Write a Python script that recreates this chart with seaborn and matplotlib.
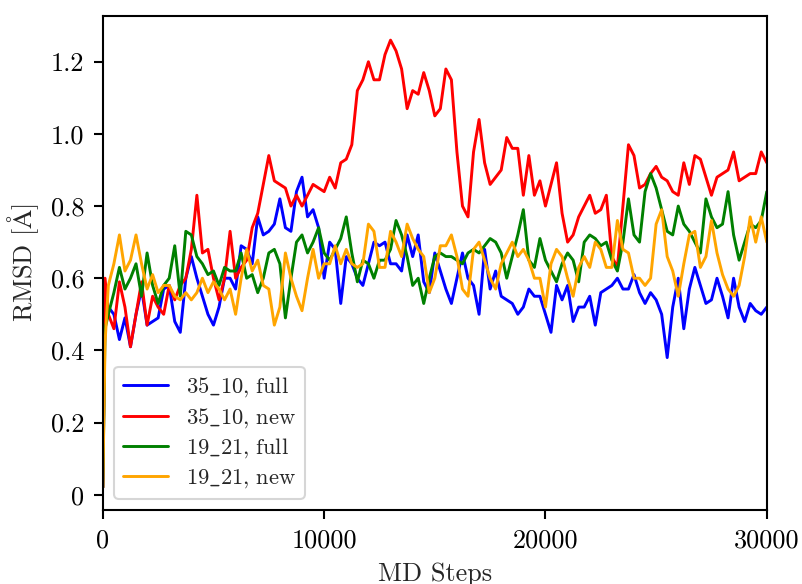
import matplotlib
matplotlib.use("Agg")
import matplotlib.pyplot as plt
import numpy as np
import pandas as pd
import seaborn as sns

# MD step at which each RMSD sample was taken
STEPS = [0, 100] + list(range(250, 30001, 250))

RMSD_35_10_FULL = [
    0.02, 0.50,
    0.52, 0.50, 0.43, 0.49, 0.41, 0.50, 0.57, 0.47, 0.48, 0.49,
    0.57, 0.58, 0.48, 0.45, 0.60, 0.66, 0.60, 0.55, 0.50, 0.47,
    0.52, 0.60, 0.60, 0.57, 0.69, 0.68, 0.64, 0.77, 0.72, 0.73,
    0.75, 0.82, 0.74, 0.73, 0.84, 0.88, 0.77, 0.79, 0.74, 0.60,
    0.70, 0.68, 0.53, 0.66, 0.64, 0.60, 0.58, 0.64, 0.70, 0.69,
    0.70, 0.64, 0.64, 0.62, 0.72, 0.66, 0.72, 0.59, 0.56, 0.67,
    0.62, 0.57, 0.53, 0.60, 0.67, 0.60, 0.58, 0.50, 0.68, 0.57,
    0.62, 0.55, 0.54, 0.53, 0.50, 0.52, 0.57, 0.55, 0.55, 0.50,
    0.45, 0.58, 0.54, 0.58, 0.48, 0.52, 0.52, 0.55, 0.47, 0.56,
    0.57, 0.58, 0.60, 0.57, 0.57, 0.61, 0.56, 0.53, 0.56, 0.54,
    0.50, 0.38, 0.52, 0.60, 0.46, 0.57, 0.63, 0.58, 0.53, 0.54,
    0.60, 0.55, 0.49, 0.60, 0.52, 0.48, 0.53, 0.51, 0.50, 0.52,
]

RMSD_35_10_NEW = [
    0.02, 0.60,
    0.50, 0.46, 0.59, 0.52, 0.41, 0.50, 0.59, 0.47, 0.55, 0.52,
    0.50, 0.58, 0.54, 0.58, 0.60, 0.68, 0.83, 0.67, 0.68, 0.60,
    0.54, 0.60, 0.73, 0.60, 0.63, 0.65, 0.74, 0.78, 0.86, 0.94,
    0.87, 0.86, 0.85, 0.80, 0.83, 0.80, 0.83, 0.86, 0.85, 0.84,
    0.88, 0.85, 0.92, 0.93, 0.97, 1.12, 1.15, 1.20, 1.15, 1.15,
    1.22, 1.26, 1.23, 1.18, 1.07, 1.12, 1.11, 1.17, 1.12, 1.05,
    1.07, 1.18, 1.15, 0.95, 0.80, 0.77, 0.95, 1.04, 0.92, 0.86,
    0.88, 0.90, 0.99, 0.96, 0.96, 0.83, 0.94, 0.83, 0.87, 0.80,
    0.86, 0.92, 0.78, 0.70, 0.72, 0.77, 0.80, 0.83, 0.78, 0.79,
    0.83, 0.66, 0.63, 0.80, 0.97, 0.94, 0.85, 0.86, 0.89, 0.91,
    0.88, 0.87, 0.84, 0.83, 0.92, 0.86, 0.94, 0.93, 0.88, 0.83,
    0.88, 0.89, 0.90, 0.95, 0.87, 0.88, 0.89, 0.89, 0.95, 0.92,
]

RMSD_19_21_FULL = [
    0.02, 0.46,
    0.50, 0.56, 0.63, 0.57, 0.60, 0.64, 0.55, 0.67, 0.58, 0.53,
    0.58, 0.60, 0.69, 0.55, 0.73, 0.72, 0.66, 0.64, 0.61, 0.62,
    0.58, 0.63, 0.62, 0.62, 0.67, 0.60, 0.61, 0.56, 0.60, 0.67,
    0.68, 0.64, 0.49, 0.60, 0.70, 0.72, 0.67, 0.70, 0.74, 0.67,
    0.65, 0.68, 0.71, 0.77, 0.67, 0.59, 0.65, 0.64, 0.60, 0.65,
    0.65, 0.68, 0.76, 0.72, 0.66, 0.58, 0.60, 0.53, 0.60, 0.66,
    0.67, 0.66, 0.66, 0.65, 0.64, 0.67, 0.68, 0.67, 0.69, 0.71,
    0.70, 0.67, 0.60, 0.66, 0.72, 0.79, 0.65, 0.63, 0.71, 0.65,
    0.62, 0.59, 0.64, 0.67, 0.65, 0.59, 0.70, 0.72, 0.71, 0.69,
    0.70, 0.65, 0.62, 0.70, 0.82, 0.72, 0.70, 0.84, 0.89, 0.85,
    0.79, 0.73, 0.72, 0.80, 0.75, 0.73, 0.70, 0.67, 0.82, 0.77,
    0.74, 0.75, 0.84, 0.72, 0.65, 0.70, 0.75, 0.74, 0.76, 0.84,
]

RMSD_19_21_NEW = [
    0.02, 0.42,
    0.58, 0.64, 0.72, 0.62, 0.65, 0.72, 0.64, 0.57, 0.61, 0.56,
    0.58, 0.58, 0.55, 0.54, 0.56, 0.54, 0.56, 0.60, 0.56, 0.59,
    0.57, 0.54, 0.57, 0.50, 0.60, 0.68, 0.62, 0.65, 0.58, 0.57,
    0.47, 0.52, 0.67, 0.60, 0.55, 0.51, 0.60, 0.68, 0.60, 0.64,
    0.64, 0.69, 0.64, 0.68, 0.64, 0.63, 0.64, 0.75, 0.73, 0.63,
    0.63, 0.73, 0.70, 0.66, 0.75, 0.71, 0.68, 0.66, 0.56, 0.60,
    0.69, 0.69, 0.72, 0.66, 0.57, 0.55, 0.68, 0.70, 0.65, 0.60,
    0.57, 0.64, 0.67, 0.70, 0.66, 0.68, 0.65, 0.60, 0.60, 0.52,
    0.64, 0.68, 0.66, 0.60, 0.55, 0.63, 0.66, 0.63, 0.70, 0.68,
    0.63, 0.63, 0.76, 0.68, 0.67, 0.60, 0.60, 0.58, 0.60, 0.75,
    0.79, 0.66, 0.62, 0.55, 0.64, 0.72, 0.73, 0.63, 0.66, 0.76,
    0.67, 0.61, 0.57, 0.55, 0.58, 0.66, 0.77, 0.70, 0.77, 0.70,
]

SERIES_LABELS = ["35_10, full", "35_10, new", "19_21, full", "19_21, new"]
SERIES_COLORS = ["blue", "red", "green", "orange"]

X_TICKS = [0, 10000, 20000, 30000]
Y_TICKS = [0, 0.2, 0.4, 0.6, 0.8, 1.0, 1.2]
Y_TICK_LABELS = ["0", "0.2", "0.4", "0.6", "0.8", "1.0", "1.2"]

# long-form table for seaborn
frames = []
for label, values in zip(SERIES_LABELS,
                         [RMSD_35_10_FULL, RMSD_35_10_NEW,
                          RMSD_19_21_FULL, RMSD_19_21_NEW]):
    frames.append(pd.DataFrame({"step": STEPS, "rmsd": values, "run": label}))
df = pd.concat(frames, ignore_index=True)

sns.set_style("ticks")
plt.rcParams["font.family"] = ["cmr10", "DejaVu Serif"]
plt.rcParams["mathtext.fontset"] = "cm"
plt.rcParams["axes.unicode_minus"] = False
plt.rcParams["axes.formatter.use_mathtext"] = True

fig = plt.figure(figsize=(8.02, 5.84), dpi=100)
ax = fig.add_axes([0.1282, 0.1264, 0.8279, 0.8469])

sns.lineplot(data=df, x="step", y="rmsd", hue="run",
             hue_order=SERIES_LABELS, palette=SERIES_COLORS,
             estimator=None, sort=False, linewidth=2.1, ax=ax)

ax.set_xlim(0, 30000)
ax.set_ylim(-0.043, 1.328)
ax.set_xticks(X_TICKS)
ax.set_xticklabels([str(t) for t in X_TICKS])
ax.set_yticks(Y_TICKS)
ax.set_yticklabels(Y_TICK_LABELS)

for side in ["top", "right", "bottom", "left"]:
    ax.spines[side].set_visible(True)
    ax.spines[side].set_linewidth(1.5)
    ax.spines[side].set_color("black")

ax.tick_params(axis="both", which="major", length=6.6, width=1.5,
               pad=6.6, labelsize=18.9, color="black", labelcolor="black")

ax.set_xlabel("MD Steps", fontsize=18.9, labelpad=7.5)
ax.set_ylabel(r"RMSD [$\mathrm{\AA}$]", fontsize=18.9, labelpad=7.5)


def tex_label(text):
    """Typeset a run name in Computer Modern, keeping the underscore."""
    body = (text.replace("_", r"\_")
                .replace(",", "{,}")
                .replace(" ", r"\ "))
    return r"$\mathrm{" + body + "}$"


handles, labels = ax.get_legend_handles_labels()
leg = ax.legend(handles, [tex_label(t) for t in labels], loc="lower left",
                fontsize=16.2, frameon=True, fancybox=True, framealpha=0.8,
                edgecolor="0.8", handlelength=2.0, labelspacing=0.3)
for line in leg.get_lines():
    line.set_linewidth(2.1)
leg.get_frame().set_linewidth(1.5)

fig.savefig("out.png", dpi=100)
